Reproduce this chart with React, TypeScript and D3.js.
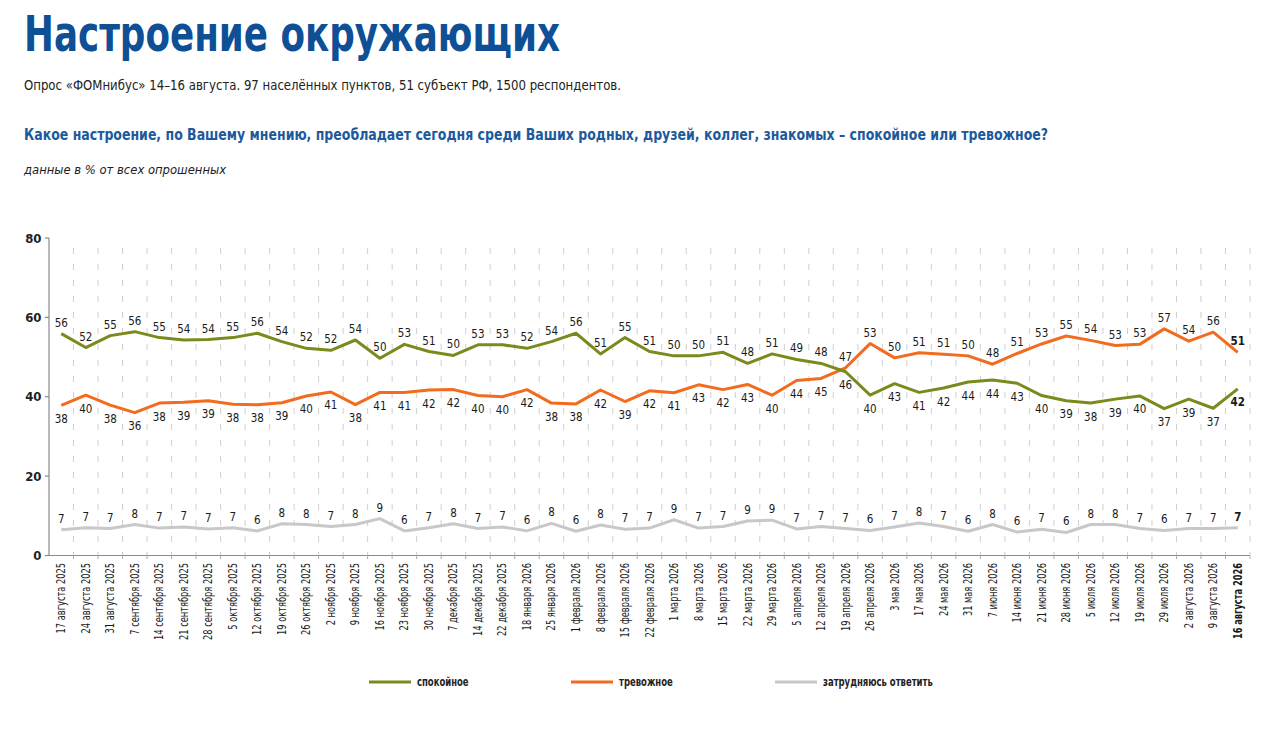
import * as d3 from "d3";

const dates = [
  "17 августа 2025", "24 августа 2025", "31 августа 2025", "7 сентября 2025",
  "14 сентября 2025", "21 сентября 2025", "28 сентября 2025", "5 октября 2025",
  "12 октября 2025", "19 октября 2025", "26 октября 2025", "2 ноября 2025",
  "9 ноября 2025", "16 ноября 2025", "23 ноября 2025", "30 ноября 2025",
  "7 декабря 2025", "14 декабря 2025", "22 декабря 2025", "18 января 2026",
  "25 января 2026", "1 февраля 2026", "8 февраля 2026", "15 февраля 2026",
  "22 февраля 2026", "1 марта 2026", "8 марта 2026", "15 марта 2026",
  "22 марта 2026", "29 марта 2026", "5 апреля 2026", "12 апреля 2026",
  "19 апреля 2026", "26 апреля 2026", "3 мая 2026", "17 мая 2026",
  "24 мая 2026", "31 мая 2026", "7 июня 2026", "14 июня 2026",
  "21 июня 2026", "28 июня 2026", "5 июля 2026", "12 июля 2026",
  "19 июля 2026", "29 июля 2026", "2 августа 2026", "9 августа 2026",
  "16 августа 2026",
];

// спокойное
const calm = [
  55.9, 52.4, 55.4, 56.4, 54.9, 54.3, 54.4, 54.9, 56.0, 53.9, 52.2, 51.7,
  54.3, 49.7, 53.2, 51.4, 50.4, 53.1, 53.1, 52.2, 53.9, 56.0, 50.8, 54.9,
  51.4, 50.3, 50.3, 51.2, 48.4, 50.8, 49.4, 48.4, 46.3, 40.4, 43.3, 41.1,
  42.2, 43.7, 44.2, 43.4, 40.3, 39.0, 38.4, 39.4, 40.2, 37.0, 39.4, 37.1,
  42.0,
];

// тревожное
const anxious = [
  37.8, 40.4, 37.9, 36.0, 38.4, 38.6, 39.0, 38.1, 38.0, 38.5, 40.2, 41.2,
  38.0, 41.1, 41.1, 41.7, 41.8, 40.3, 40.0, 41.8, 38.4, 38.2, 41.7, 38.8,
  41.5, 41.0, 43.0, 41.8, 43.1, 40.4, 44.1, 44.6, 47.3, 53.4, 49.8, 51.1,
  50.7, 50.3, 48.2, 50.9, 53.3, 55.3, 54.2, 52.9, 53.2, 57.1, 54.0, 56.3,
  51.2,
];

// затрудняюсь ответить
const unsure = [
  6.5, 7.0, 6.8, 7.8, 6.9, 7.2, 6.7, 7.0, 6.2, 8.0, 7.8, 7.3,
  7.8, 9.3, 6.2, 7.0, 8.0, 6.8, 7.2, 6.2, 8.1, 6.1, 7.7, 6.6,
  6.9, 9.0, 6.9, 7.3, 8.7, 8.9, 6.7, 7.3, 6.8, 6.3, 7.2, 8.2,
  7.3, 6.1, 7.8, 5.9, 6.6, 5.8, 7.8, 7.8, 6.8, 6.3, 6.8, 6.8,
  7.0,
];

const yTicks = [0, 20, 40, 60, 80];

const FONT = "'Liberation Sans Narrow', 'DejaVu Sans Condensed', 'Open Sans', sans-serif";
const GREEN = "#7b8a1c";
const ORANGE = "#f26b1f";
const GREY = "#c8c8c8";

const legend = [
  { name: "спокойное", color: GREEN, x: 369 },
  { name: "тревожное", color: ORANGE, x: 571 },
  { name: "затрудняюсь ответить", color: GREY, x: 775 },
];

export default function App() {
  const width = 1280;
  const height = 731;

  const x = d3.scaleBand<string>().domain(dates).range([49, 1250]);
  const bw = x.bandwidth();
  const cx = (i: number) => (x(dates[i]) as number) + bw / 2;
  const y = d3.scaleLinear().domain([0, 80]).range([555.5, 238]);

  const line = d3
    .line<number>()
    .x((_, i) => cx(i))
    .y((d) => y(d));

  const last = dates.length - 1;

  const label = (v: number, i: number, above: boolean, key: string) => (
    <text
      key={key}
      transform={`translate(${cx(i)},${above ? y(v) - 7 : y(v) + 17.5}) scale(0.92,1)`}
      textAnchor="middle"
      fontSize={12.5}
      fontWeight={i === last ? 700 : 400}
      fill="#1a1a1a"
    >
      {Math.round(v)}
    </text>
  );

  const boundaries = d3.range(1, dates.length + 1).map((k) => 49 + k * bw);

  return (
    <svg
      width={width}
      height={height}
      style={{ position: "absolute", left: 0, top: 0, background: "#fff" }}
      fontFamily={FONT}
    >
      {/* header */}
      <text x={24} y={51} fontSize={50} fontWeight={700} fill="#0e4f96" textLength={536} lengthAdjust="spacingAndGlyphs">
        Настроение окружающих
      </text>
      <text x={24} y={90} fontSize={14} fill="#222" textLength={597} lengthAdjust="spacingAndGlyphs">
        Опрос «ФОМнибус» 14–16 августа. 97 населённых пунктов, 51 субъект РФ, 1500 респондентов.
      </text>
      <text x={24} y={140} fontSize={16.5} fontWeight={700} fill="#1d5a9d" textLength={1024} lengthAdjust="spacingAndGlyphs">
        Какое настроение, по Вашему мнению, преобладает сегодня среди Ваших родных, друзей, коллег, знакомых – спокойное или тревожное?
      </text>
      <text x={24} y={174} fontSize={13} fontStyle="italic" fill="#222" textLength={202} lengthAdjust="spacingAndGlyphs">
        данные в % от всех опрошенных
      </text>

      {/* grid */}
      {boundaries.map((bx, k) => (
        <line key={"g" + k} x1={bx} x2={bx} y1={248} y2={555} stroke="#cfcfcf" strokeWidth={1} strokeDasharray="6 10" />
      ))}

      {/* axes */}
      <line x1={49} x2={49} y1={238} y2={555.5} stroke="#8a8a8a" strokeWidth={1.2} />
      <line x1={49} x2={1250} y1={555.5} y2={555.5} stroke="#8a8a8a" strokeWidth={1.2} />
      {boundaries.map((bx, k) => (
        <line key={"xt" + k} x1={bx} x2={bx} y1={555.5} y2={559} stroke="#aaa" strokeWidth={1} />
      ))}
      {yTicks.map((t) => (
        <g key={"yt" + t}>
          <line x1={45} x2={49} y1={y(t)} y2={y(t)} stroke="#8a8a8a" strokeWidth={1.2} />
          <text x={41.5} y={y(t) + 4.5} textAnchor="end" fontSize={13} fontWeight={700} fill="#222">
            {t}
          </text>
        </g>
      ))}

      {/* x labels */}
      {dates.map((d, i) => (
        <text
          key={"xl" + i}
          transform={`translate(${cx(i)},563) rotate(-90) scale(0.8,1)`}
          textAnchor="end"
          dy="0.35em"
          fontSize={11.5}
          fontWeight={i === last ? 700 : 400}
          fill="#1a1a1a"
        >
          {d}
        </text>
      ))}

      {/* lines */}
      <path d={line(unsure) ?? ""} fill="none" stroke={GREY} strokeWidth={3} strokeLinejoin="round" />
      <path d={line(anxious) ?? ""} fill="none" stroke={ORANGE} strokeWidth={3} strokeLinejoin="round" />
      <path d={line(calm) ?? ""} fill="none" stroke={GREEN} strokeWidth={3} strokeLinejoin="round" />

      {/* value labels */}
      {calm.map((v, i) => label(v, i, v >= anxious[i], "c" + i))}
      {anxious.map((v, i) => label(v, i, v > calm[i], "a" + i))}
      {unsure.map((v, i) => label(v, i, true, "u" + i))}

      {/* legend */}
      {legend.map((l) => (
        <g key={l.name}>
          <line x1={l.x} x2={l.x + 42} y1={682} y2={682} stroke={l.color} strokeWidth={3} />
          <text transform={`translate(${l.x + 48},686) scale(0.82,1)`} fontSize={11.5} fontWeight={700} fill="#222">
            {l.name}
          </text>
        </g>
      ))}
    </svg>
  );
}
